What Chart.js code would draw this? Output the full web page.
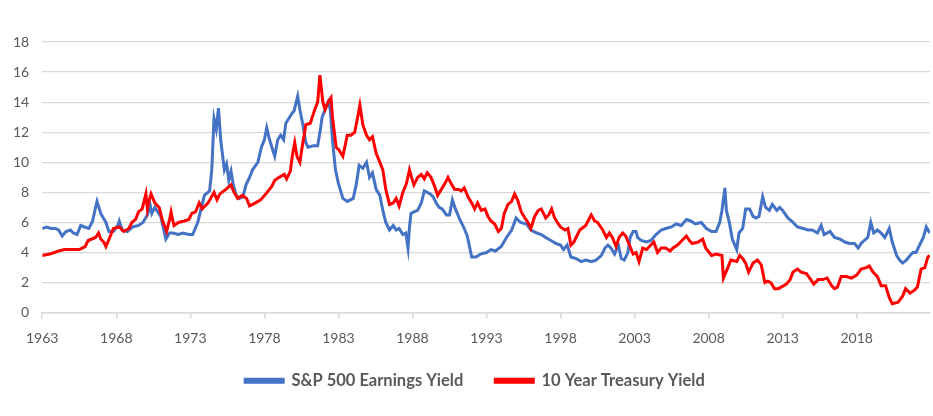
<!DOCTYPE html>
<html>
<head>
<meta charset="utf-8">
<script src="https://cdn.jsdelivr.net/npm/chart.js@4"></script>
<style>
  body { margin: 0; background: #fff; }
  #wrap { width: 933px; height: 416px; position: relative; }
</style>
</head>
<body>
<div id="wrap"><canvas id="myChart"></canvas></div>
<script>
// values (year, percent)
var eyYears = [1963.0,1963.3,1963.6,1963.9,1964.1,1964.35,1964.6,1964.9,1965.1,1965.35,1965.6,1965.85,1966.15,1966.4,1966.6,1966.7,1966.95,1967.3,1967.5,1967.8,1968.1,1968.2,1968.4,1968.75,1969.1,1969.5,1969.8,1970.1,1970.3,1970.4,1970.6,1971.0,1971.35,1971.6,1971.8,1972.2,1972.5,1972.9,1973.16,1973.5,1973.95,1974.3,1974.45,1974.6,1974.75,1974.9,1975.05,1975.3,1975.45,1975.6,1975.75,1975.9,1976.1,1976.3,1976.55,1976.76,1977.0,1977.2,1977.56,1977.8,1978.0,1978.16,1978.35,1978.7,1978.9,1979.1,1979.3,1979.45,1979.7,1979.9,1980.0,1980.25,1980.4,1980.6,1980.8,1980.95,1981.3,1981.6,1981.8,1981.9,1982.1,1982.3,1982.45,1982.6,1982.8,1983.0,1983.3,1983.6,1984.0,1984.2,1984.4,1984.65,1984.9,1985.1,1985.3,1985.55,1985.8,1986.0,1986.2,1986.45,1986.7,1986.9,1987.1,1987.35,1987.55,1987.7,1987.8,1987.9,1988.1,1988.35,1988.6,1988.8,1989.0,1989.2,1989.4,1989.6,1989.8,1990.0,1990.3,1990.5,1990.7,1990.9,1991.2,1991.5,1991.7,1992.0,1992.3,1992.6,1993.0,1993.3,1993.6,1994.0,1994.35,1994.7,1995.0,1995.3,1995.7,1996.0,1996.4,1996.7,1997.0,1997.35,1997.7,1998.0,1998.2,1998.45,1998.7,1999.05,1999.4,1999.7,2000.07,2000.4,2000.75,2001.0,2001.2,2001.4,2001.65,2001.9,2002.1,2002.3,2002.55,2002.7,2002.9,2003.1,2003.2,2003.45,2003.8,2004.1,2004.45,2004.8,2005.1,2005.5,2005.8,2006.15,2006.5,2006.8,2007.1,2007.5,2007.85,2008.2,2008.5,2008.75,2008.9,2009.1,2009.2,2009.4,2009.6,2009.9,2010.05,2010.3,2010.5,2010.77,2011.0,2011.2,2011.4,2011.65,2011.85,2012.1,2012.3,2012.6,2012.8,2013.0,2013.35,2013.7,2014.0,2014.4,2014.7,2015.0,2015.35,2015.6,2015.8,2016.2,2016.5,2016.85,2017.2,2017.5,2017.85,2018.1,2018.3,2018.5,2018.75,2018.95,2019.15,2019.4,2019.65,2019.9,2020.2,2020.4,2020.7,2020.9,2021.1,2021.35,2021.6,2021.8,2022.0,2022.25,2022.5,2022.7,2022.93];
var eyValues = [5.6,5.7,5.6,5.6,5.5,5.1,5.4,5.5,5.3,5.2,5.8,5.7,5.6,6.1,7.0,7.4,6.6,6.0,5.4,5.4,5.8,6.1,5.5,5.4,5.7,5.8,6.0,6.5,7.1,6.6,7.0,6.4,4.9,5.3,5.3,5.2,5.3,5.2,5.2,6.0,7.8,8.1,9.5,12.9,12.2,13.6,11.5,9.5,9.9,8.8,9.4,8.5,7.8,7.6,7.7,8.5,9.0,9.5,10.0,11.0,11.5,12.3,11.5,10.4,11.5,11.8,11.5,12.6,13.0,13.3,13.4,14.4,13.5,12.5,11.3,11.0,11.1,11.1,12.3,13.0,13.5,14.0,13.5,11.5,9.5,8.6,7.6,7.4,7.6,8.5,9.8,9.6,10.0,9.0,9.3,8.2,7.8,6.8,6.0,5.5,5.8,5.5,5.6,5.2,5.3,4.3,5.7,6.6,6.7,6.8,7.3,8.1,8.0,7.9,7.7,7.3,7.0,6.9,6.5,6.5,7.5,6.9,6.2,5.6,5.1,3.7,3.7,3.9,4.0,4.2,4.1,4.4,5.0,5.5,6.3,6.0,5.9,5.5,5.3,5.2,5.0,4.8,4.6,4.5,4.2,4.5,3.7,3.6,3.4,3.5,3.4,3.5,3.8,4.3,4.5,4.3,3.9,4.5,3.6,3.5,4.0,5.0,5.4,5.4,5.0,4.8,4.7,4.8,5.2,5.5,5.6,5.7,5.9,5.8,6.2,6.1,5.9,6.0,5.6,5.4,5.4,6.0,6.8,8.3,6.8,6.0,4.9,4.2,5.3,5.6,6.9,6.9,6.4,6.3,6.4,7.7,7.0,6.8,7.2,6.8,7.0,6.8,6.3,6.0,5.7,5.6,5.5,5.5,5.3,5.8,5.2,5.4,5.0,4.9,4.7,4.6,4.6,4.3,4.6,4.8,5.0,6.0,5.3,5.5,5.3,5.0,5.6,4.7,3.8,3.5,3.3,3.5,3.8,4.0,4.0,4.5,5.0,5.7,5.3];

var tyYears = [1963.0,1963.5,1964.1,1964.5,1965.0,1965.5,1965.9,1966.1,1966.6,1966.8,1966.95,1967.15,1967.3,1967.6,1967.8,1968.2,1968.5,1968.85,1969.05,1969.3,1969.5,1969.75,1970.0,1970.1,1970.2,1970.35,1970.6,1970.9,1971.1,1971.4,1971.6,1971.7,1971.8,1971.9,1972.2,1972.6,1972.9,1973.1,1973.35,1973.6,1973.8,1974.2,1974.6,1974.8,1975.0,1975.4,1975.75,1975.95,1976.2,1976.5,1976.8,1977.0,1977.4,1977.75,1978.1,1978.5,1978.7,1979.0,1979.35,1979.5,1979.75,1979.9,1980.05,1980.2,1980.4,1980.55,1980.8,1981.1,1981.4,1981.6,1981.75,1981.95,1982.1,1982.3,1982.5,1982.6,1982.85,1983.05,1983.3,1983.6,1983.85,1984.1,1984.3,1984.45,1984.65,1984.9,1985.1,1985.3,1985.55,1985.8,1986.0,1986.2,1986.45,1986.7,1986.9,1987.1,1987.35,1987.6,1987.8,1988.0,1988.1,1988.35,1988.6,1988.8,1989.0,1989.25,1989.5,1989.7,1989.95,1990.2,1990.4,1990.6,1990.85,1991.1,1991.3,1991.5,1991.75,1992.0,1992.2,1992.4,1992.65,1992.9,1993.1,1993.3,1993.55,1993.8,1994.0,1994.2,1994.45,1994.7,1994.9,1995.1,1995.35,1995.6,1995.8,1996.0,1996.25,1996.5,1996.7,1997.0,1997.2,1997.4,1997.6,1997.85,1998.0,1998.3,1998.5,1998.7,1998.9,1999.3,1999.7,2000.07,2000.3,2000.5,2000.85,2001.1,2001.3,2001.5,2001.75,2001.95,2002.2,2002.4,2002.65,2002.9,2003.1,2003.3,2003.55,2003.8,2004.0,2004.3,2004.55,2004.8,2005.1,2005.4,2005.6,2005.9,2006.2,2006.5,2006.7,2006.9,2007.3,2007.6,2007.8,2008.2,2008.5,2008.9,2009.0,2009.3,2009.5,2009.9,2010.1,2010.3,2010.5,2010.7,2011.0,2011.3,2011.55,2011.8,2012.0,2012.2,2012.45,2012.7,2012.9,2013.25,2013.5,2013.7,2014.0,2014.25,2014.6,2014.9,2015.1,2015.4,2015.7,2016.0,2016.3,2016.5,2016.7,2016.95,2017.3,2017.65,2018.0,2018.3,2018.65,2018.85,2019.1,2019.4,2019.65,2019.95,2020.2,2020.4,2020.8,2021.1,2021.3,2021.6,2021.9,2022.1,2022.35,2022.6,2022.8,2022.93];
var tyValues = [3.8,3.9,4.1,4.2,4.2,4.2,4.4,4.8,5.0,5.3,4.9,4.7,4.4,5.1,5.6,5.7,5.4,5.6,6.0,6.2,6.7,6.9,7.9,6.9,7.4,7.9,7.3,7.0,6.2,5.4,6.2,6.7,6.2,5.8,6.0,6.1,6.2,6.6,6.7,7.3,6.9,7.3,8.0,7.5,7.9,8.2,8.5,8.0,7.6,7.8,7.6,7.1,7.3,7.5,7.9,8.4,8.8,9.0,9.2,8.9,9.4,10.5,11.3,10.4,10.0,11.0,12.5,12.6,13.5,14.0,15.8,14.0,13.5,14.0,14.3,13.0,11.0,10.8,10.4,11.8,11.8,12.0,13.0,13.8,12.5,11.8,11.5,11.7,10.6,10.0,9.5,8.2,7.2,7.3,7.6,7.1,8.0,8.6,9.5,8.8,8.5,9.0,9.2,8.9,9.3,9.0,8.4,7.8,8.2,8.6,9.0,8.6,8.2,8.2,8.1,8.3,7.7,7.3,6.9,7.3,6.8,6.9,6.4,6.1,5.9,5.4,5.6,6.6,7.2,7.4,7.9,7.5,6.7,6.3,6.0,5.6,6.4,6.8,6.9,6.3,6.5,6.9,6.3,5.9,5.7,5.5,5.6,4.5,4.7,5.5,5.8,6.5,6.1,6.0,5.5,5.0,5.3,5.0,4.4,5.0,5.3,5.1,4.5,3.9,4.0,3.4,4.3,4.2,4.4,4.7,4.0,4.3,4.3,4.1,4.3,4.5,4.8,5.1,4.8,4.6,4.7,4.9,4.3,3.8,3.9,3.8,2.3,3.0,3.5,3.4,3.8,3.6,3.3,2.7,3.3,3.5,3.2,2.0,2.1,2.0,1.6,1.6,1.7,1.9,2.2,2.7,2.9,2.7,2.6,2.2,1.9,2.2,2.2,2.3,1.8,1.6,1.7,2.4,2.4,2.3,2.5,2.9,3.0,3.1,2.7,2.4,1.8,1.8,1.0,0.6,0.7,1.1,1.6,1.3,1.5,1.7,2.9,3.0,3.7,3.8];

var xTicks = [1963,1968,1973,1978,1983,1988,1993,1998,2003,2008,2013,2018];
var yTicks = [0,2,4,6,8,10,12,14,16,18];
var seriesNames = ["S&P 500 Earnings Yield", "10 Year Treasury Yield"];
var seriesColors = ["#4472C4", "#FF0000"];

function toPoints(xs, ys) {
    return xs.map(function (x, i) { return { x: x, y: ys[i] }; });
}

var fontFamily = "Lato, 'Noto Sans', sans-serif";
var textColor = "#595959";

// pull the legend up closer to the year labels and a bit to the right
var legendNudge = {
    id: "legendNudge",
    afterLayout: function (chart) {
        var lg = chart.legend;
        lg.top -= 17; lg.bottom -= 17;
        lg.left += 10; lg.right += 10;
    }
};

new Chart("myChart", {
    type: "line",
    data: {
        datasets: [{
            label: seriesNames[0],
            data: toPoints(eyYears, eyValues),
            borderColor: seriesColors[0],
            backgroundColor: seriesColors[0],
            borderWidth: 3,
            pointRadius: 0,
            order: 2
        }, {
            label: seriesNames[1],
            data: toPoints(tyYears, tyValues),
            borderColor: seriesColors[1],
            backgroundColor: seriesColors[1],
            borderWidth: 3,
            pointRadius: 0,
            order: 1
        }]
    },
    plugins: [legendNudge],
    options: {
        responsive: true,
        maintainAspectRatio: false,
        animation: false,
        layout: { padding: { left: 0, right: 3, top: 42, bottom: 0 } },
        scales: {
            x: {
                type: "linear",
                min: 1963,
                max: 2022.95,
                afterBuildTicks: function (axis) {
                    axis.ticks = xTicks.map(function (v) { return { value: v }; });
                },
                ticks: {
                    autoSkip: false,
                    maxRotation: 0,
                    color: textColor,
                    font: { family: fontFamily, size: 14 },
                    padding: 11,
                    callback: function (v) { return String(v); }
                },
                grid: {
                    drawOnChartArea: false,
                    drawTicks: true,
                    tickLength: 6,
                    color: "#D9D9D9",
                    lineWidth: 1.5
                },
                border: { color: "#D9D9D9", width: 1.5 }
            },
            y: {
                min: 0,
                max: 18,
                afterBuildTicks: function (axis) {
                    axis.ticks = yTicks.map(function (v) { return { value: v }; });
                },
                ticks: {
                    color: textColor,
                    font: { family: fontFamily, size: 14 },
                    padding: 13
                },
                grid: {
                    drawTicks: false,
                    color: "#D9D9D9",
                    lineWidth: 1.2
                },
                border: { display: false }
            }
        },
        plugins: {
            legend: {
                position: "bottom",
                labels: {
                    boxWidth: 38,
                    boxHeight: 3,
                    padding: 32,
                    color: textColor,
                    font: { family: fontFamily, size: 16.5, weight: "bold" },
                    sort: function (a, b) { return a.datasetIndex - b.datasetIndex; }
                }
            },
            tooltip: { enabled: false }
        }
    }
});
</script>
</body>
</html>
